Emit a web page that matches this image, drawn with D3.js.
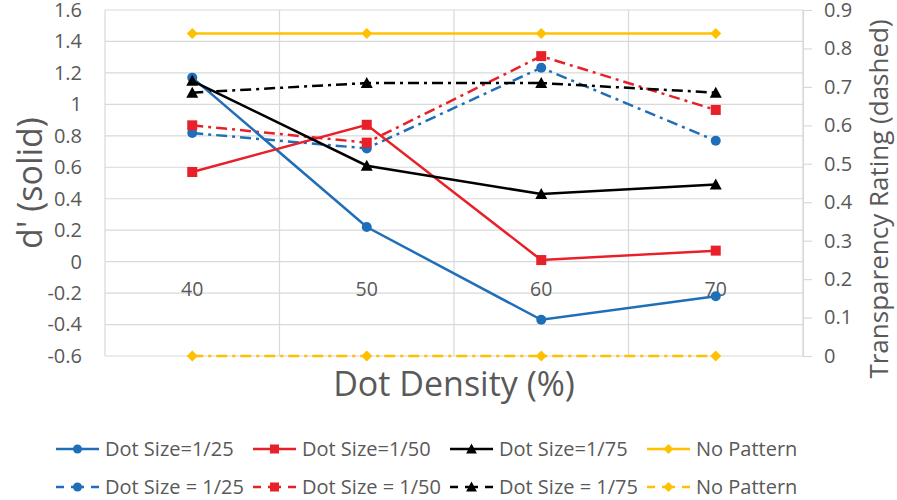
<!DOCTYPE html>
<html><head><meta charset="utf-8">
<script src="https://cdn.jsdelivr.net/npm/d3@7"></script>
<style>body{margin:0;background:#fff;} text{font-family:"Open Sans","Noto Sans",sans-serif;}</style>
</head><body>
<svg id="c" width="897" height="500"></svg>
<script>
const categories = ["40", "50", "60", "70"];
const leftTicks = [-0.6, -0.4, -0.2, 0, 0.2, 0.4, 0.6, 0.8, 1, 1.2, 1.4, 1.6];
const rightTicks = [0, 0.1, 0.2, 0.3, 0.4, 0.5, 0.6, 0.7, 0.8, 0.9];
// d' (solid, left axis)
const dSize25 = [1.17, 0.22, -0.37, -0.22];
const dSize50 = [0.57, 0.87, 0.01, 0.07];
const dSize75 = [1.15, 0.61, 0.43, 0.49];
const dNoPattern = [1.45, 1.45, 1.45, 1.45];
// Transparency rating (dashed, right axis)
const tSize25 = [0.58, 0.54, 0.75, 0.56];
const tSize50 = [0.60, 0.555, 0.78, 0.64];
const tSize75 = [0.685, 0.71, 0.71, 0.685];
const tNoPattern = [0, 0, 0, 0];

const colors = {blue: "#1F6FB8", red: "#E8202A", black: "#000000", yellow: "#FFC000"};

const series = [
  {name: "Dot Size=1/25", values: dSize25, axis: "L", color: colors.blue, marker: "circle", dashed: false},
  {name: "Dot Size=1/50", values: dSize50, axis: "L", color: colors.red, marker: "square", dashed: false},
  {name: "Dot Size=1/75", values: dSize75, axis: "L", color: colors.black, marker: "triangle", dashed: false},
  {name: "No Pattern", values: dNoPattern, axis: "L", color: colors.yellow, marker: "diamond", dashed: false},
  {name: "Dot Size = 1/25", values: tSize25, axis: "R", color: colors.blue, marker: "circle", dashed: true},
  {name: "Dot Size = 1/50", values: tSize50, axis: "R", color: colors.red, marker: "square", dashed: true},
  {name: "Dot Size = 1/75", values: tSize75, axis: "R", color: colors.black, marker: "triangle", dashed: true},
  {name: "No Pattern", values: tNoPattern, axis: "R", color: colors.yellow, marker: "diamond", dashed: true}
];

const svg = d3.select("#c");
const L = 105, R = 803, T = 10, B = 356;
const x = d3.scaleBand().domain(categories).range([L, R]).padding(0);
const yL = d3.scaleLinear().domain([-0.6, 1.6]).range([B, T]);
const yR = d3.scaleLinear().domain([0, 0.9]).range([B, T]);
const cx = c => x(c) + x.bandwidth() / 2;
const grid = "#D9D9D9", txt = "#595959";
const fmt = d => String(+d.toFixed(1));

// horizontal gridlines
svg.append("g").selectAll("line").data(leftTicks).join("line")
  .attr("x1", L).attr("x2", R).attr("y1", d => yL(d)).attr("y2", d => yL(d))
  .attr("stroke", grid).attr("stroke-width", 1.2);
// vertical gridlines at band boundaries
const bounds = categories.map(c => x(c)).concat([R]);
svg.append("g").selectAll("line").data(bounds).join("line")
  .attr("x1", d => d).attr("x2", d => d).attr("y1", T).attr("y2", B)
  .attr("stroke", grid).attr("stroke-width", 1.2);

// left axis labels
const gL = svg.append("g").attr("transform", `translate(${L},0)`)
  .call(d3.axisLeft(yL).tickValues(leftTicks).tickSize(0).tickPadding(23).tickFormat(fmt));
gL.select(".domain").remove();
gL.selectAll("text").attr("font-size", 20).attr("fill", txt).attr("font-family", "Open Sans");

// right axis
const gR = svg.append("g").attr("transform", `translate(${R},0)`)
  .call(d3.axisRight(yR).tickValues(rightTicks).tickSize(9).tickPadding(12).tickFormat(fmt));
gR.select(".domain").attr("stroke", grid).attr("stroke-width", 1.2);
gR.selectAll(".tick line").attr("stroke", grid).attr("stroke-width", 1.2);
gR.selectAll("text").attr("font-size", 20).attr("fill", txt).attr("font-family", "Open Sans");

// category axis labels (below zero line)
const gX = svg.append("g").attr("transform", `translate(0,${yL(0)})`)
  .call(d3.axisBottom(x).tickSize(0).tickPadding(21));
gX.select(".domain").remove();
gX.selectAll("text").attr("font-size", 19.5).attr("fill", txt).attr("font-family", "Open Sans");

// axis titles
svg.append("text").attr("x", (L + R) / 2).attr("y", 396).attr("text-anchor", "middle")
  .attr("font-size", 34).attr("fill", txt).text("Dot Density (%)");
svg.append("text").attr("transform", `translate(42,${(T + B) / 2}) rotate(-90)`).attr("text-anchor", "middle")
  .attr("font-size", 34).attr("fill", txt).text("d' (solid)");
svg.append("text").attr("transform", `translate(888,${(T + B) / 2 + 16}) rotate(-90)`).attr("text-anchor", "middle")
  .attr("font-size", 26).attr("fill", txt).text("Transparency Rating (dashed)");

const dashArr = "11,5,3,5";
function marker(g, type, color, px, py, s) {
  s = s || 1;
  if (type === "circle") g.append("circle").attr("cx", px).attr("cy", py).attr("r", 5 * s).attr("fill", color);
  else if (type === "square") g.append("rect").attr("x", px - 5 * s).attr("y", py - 5 * s).attr("width", 10 * s).attr("height", 10 * s).attr("fill", color);
  else if (type === "triangle") g.append("path").attr("d", `M${px},${py - 6 * s}L${px + 6 * s},${py + 5 * s}L${px - 6 * s},${py + 5 * s}Z`).attr("fill", color);
  else g.append("path").attr("d", `M${px},${py - 5.5 * s}L${px + 5.5 * s},${py}L${px},${py + 5.5 * s}L${px - 5.5 * s},${py}Z`).attr("fill", color);
}

const order = [4, 5, 6, 7, 0, 1, 2, 3];
order.forEach(i => {
  const s = series[i];
  const ys = s.axis === "L" ? yL : yR;
  const g = svg.append("g");
  const line = d3.line().x((d, j) => cx(categories[j])).y(d => ys(d));
  g.append("path").datum(s.values).attr("d", line).attr("fill", "none")
    .attr("stroke", s.color).attr("stroke-width", 2.5)
    .attr("stroke-dasharray", s.dashed ? dashArr : null);
  s.values.forEach((v, j) => marker(g, s.marker, s.color, cx(categories[j]), ys(v), 1));
});

// legend
const legX = [56, 253, 450, 647];
const legY = [449, 487];
series.forEach((s, i) => {
  const row = i < 4 ? 0 : 1, col = i % 4;
  const g = svg.append("g");
  const x0 = legX[col], y0 = legY[row];
  g.append("line").attr("x1", x0).attr("x2", x0 + 43).attr("y1", y0).attr("y2", y0)
    .attr("stroke", s.color).attr("stroke-width", 2.5)
    .attr("stroke-dasharray", s.dashed ? "8,7,13,7,8" : null);
  marker(g, s.marker, s.color, x0 + 21.5, y0, 0.9);
  g.append("text").attr("x", x0 + 49).attr("y", y0).attr("dy", "0.35em")
    .attr("font-size", 20).attr("fill", txt).text(s.name);
});
</script>
</body></html>
